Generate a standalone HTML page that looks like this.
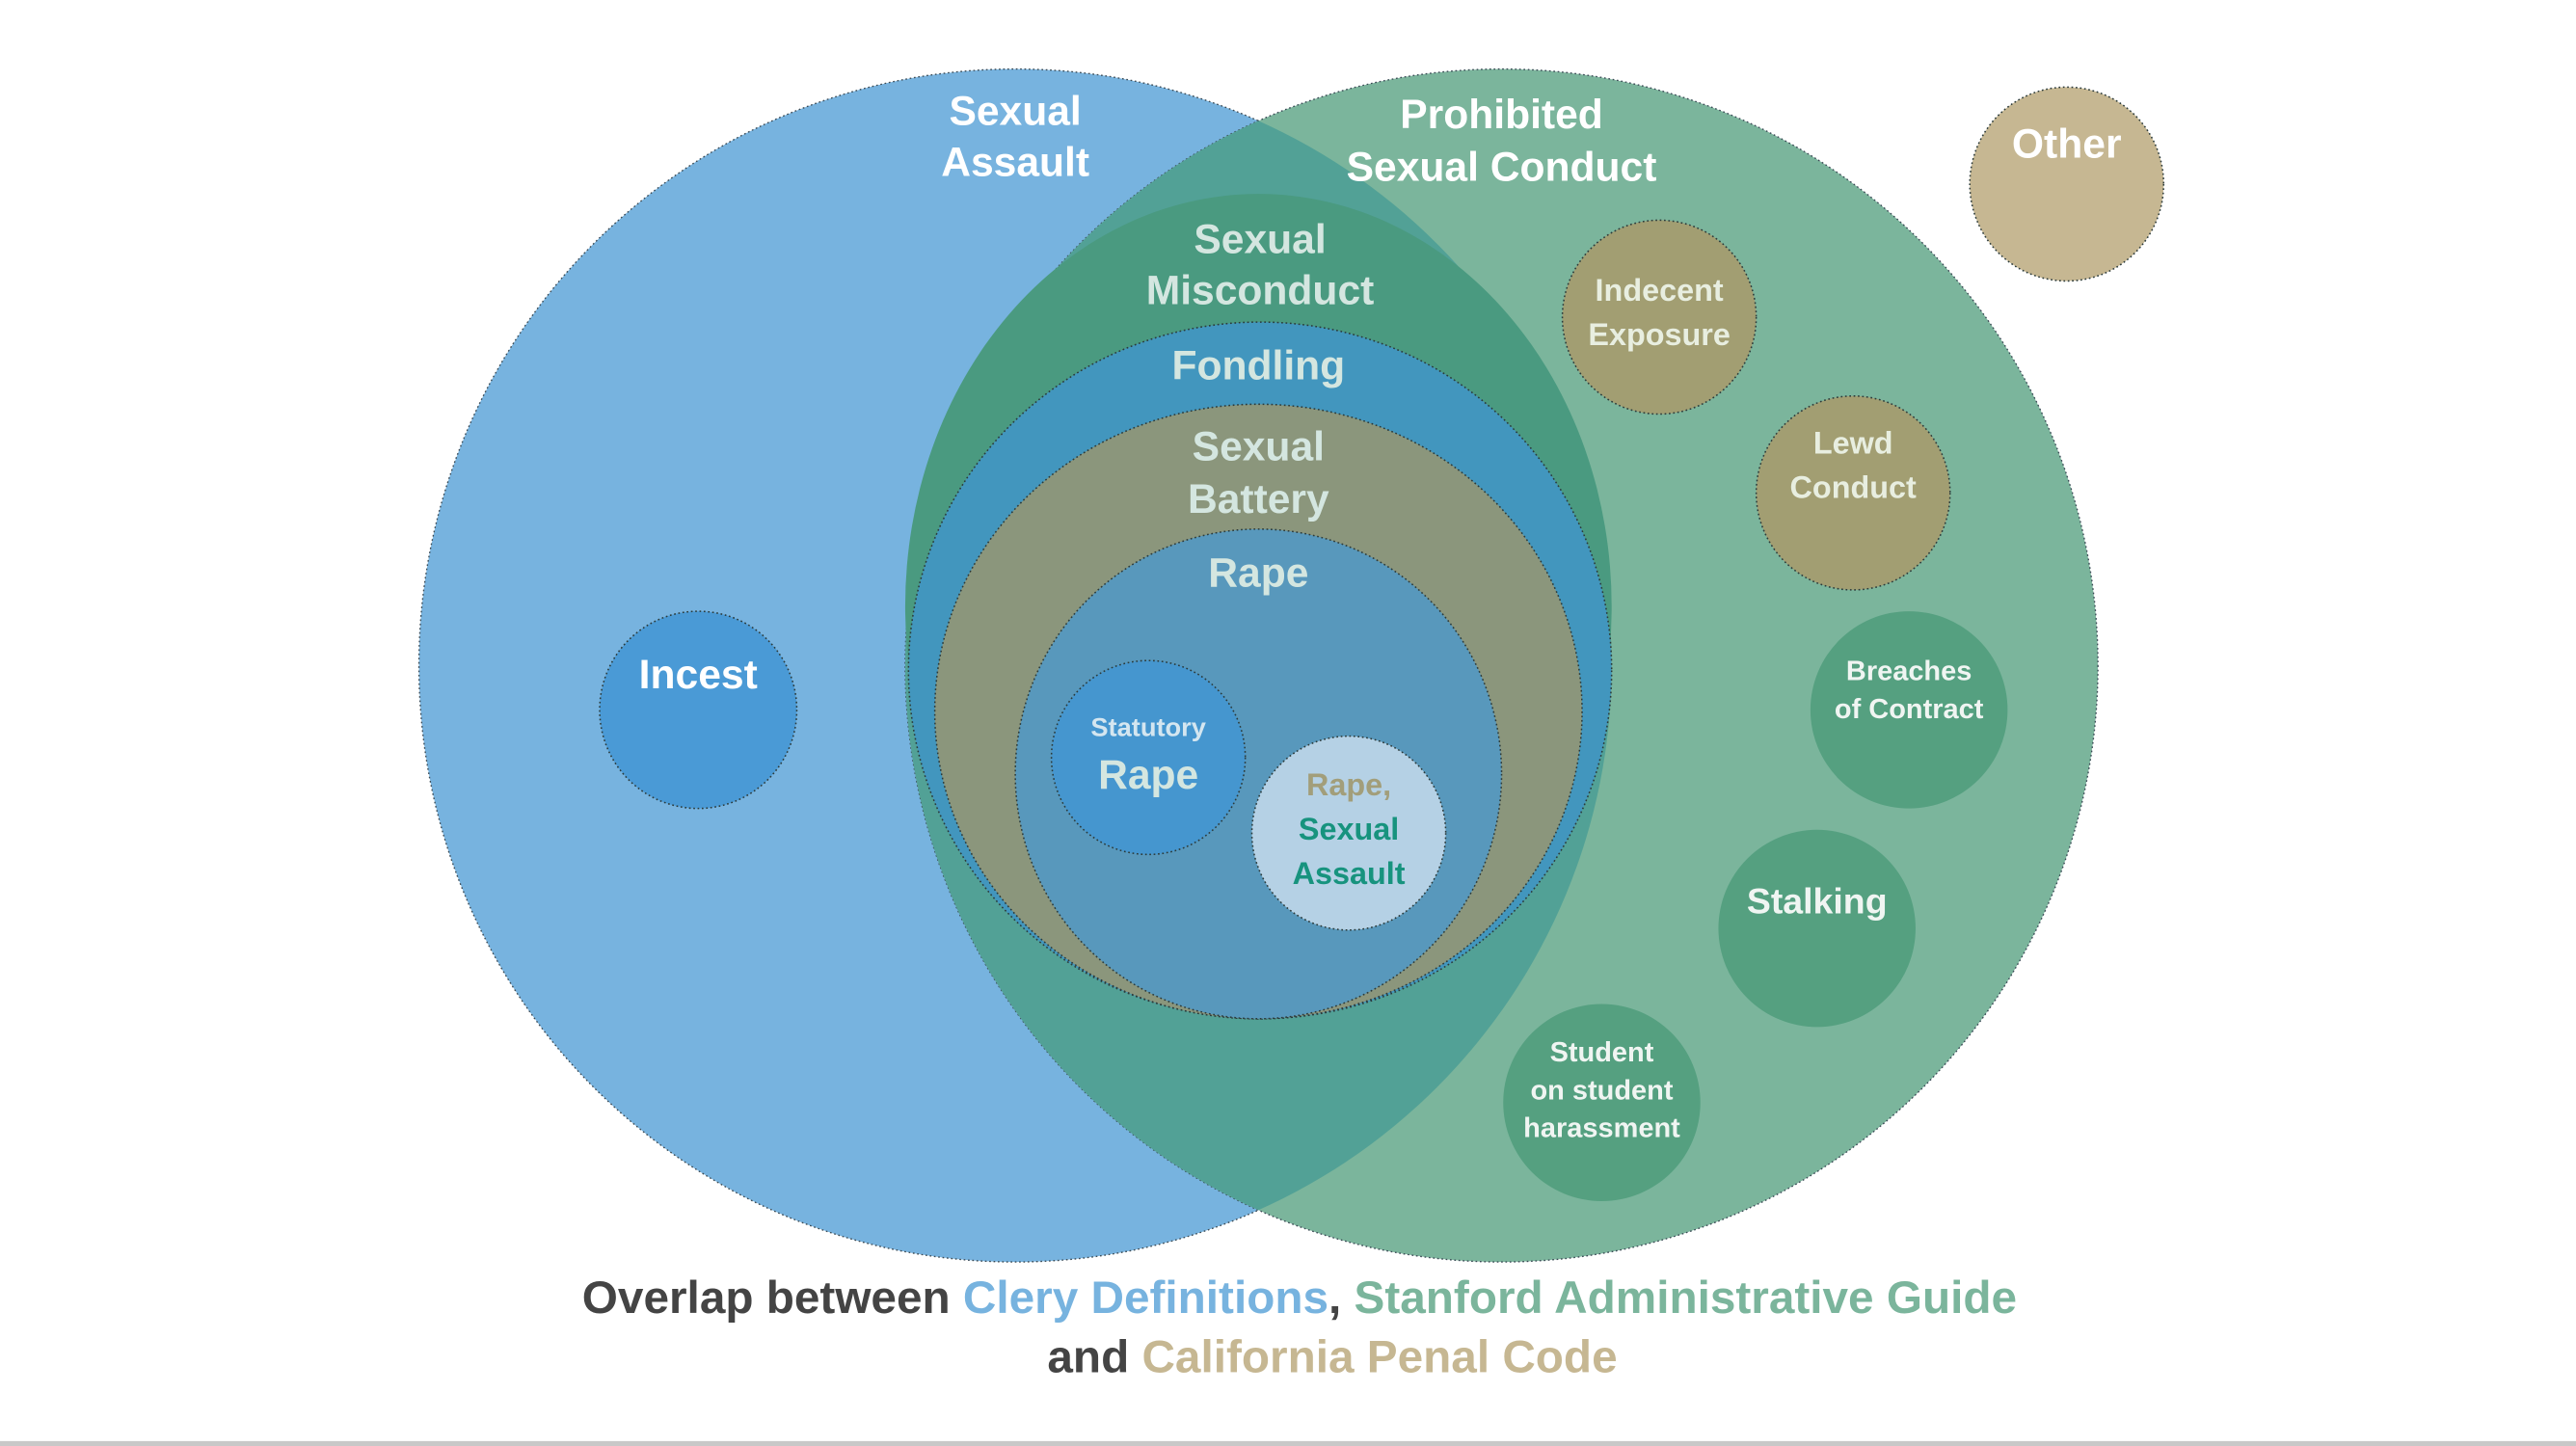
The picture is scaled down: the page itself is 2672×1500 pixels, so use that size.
<!DOCTYPE html>
<html><head><meta charset="utf-8"><style>
html,body{margin:0;padding:0;background:#fff;}
svg{display:block;}
text{font-family:"Liberation Sans",Arial,sans-serif;font-weight:bold;text-anchor:middle;}
</style></head><body>
<svg width="2672" height="1500" viewBox="0 0 1568 880" preserveAspectRatio="none" xmlns="http://www.w3.org/2000/svg">
<defs>
<clipPath id="blueClip"><circle cx="618" cy="405" r="363"/></clipPath>
</defs>
<rect width="1568" height="880" fill="#fff"/>
<g stroke="#3a4a55" stroke-width="0.8" stroke-dasharray="1,1.6">
<circle cx="618" cy="405" r="363" fill="#77b3df"/>
<circle cx="914" cy="405" r="363" fill="#7bb59c"/>
</g>
<circle cx="914" cy="405" r="363" fill="#52a196" clip-path="url(#blueClip)"/>
<g stroke="#2b3a3a" stroke-width="0.9" stroke-dasharray="1,1.6">
<ellipse cx="766" cy="369" rx="215" ry="251" fill="#4a9a80" stroke="none"/>
<ellipse cx="767" cy="408" rx="214" ry="212" fill="#4296be"/>
<ellipse cx="766" cy="433" rx="197" ry="187" fill="#8b967c"/>
<ellipse cx="766" cy="471" rx="148" ry="149" fill="#5898bc"/>
<circle cx="699" cy="461" r="59" fill="#4596cf"/>
<circle cx="821" cy="507" r="59" fill="#b5d1e5"/>
<circle cx="425" cy="432" r="60" fill="#4a9ad6"/>
<circle cx="1258" cy="112" r="59" fill="#c6b792"/>
<circle cx="1010" cy="193" r="59" fill="#a29e72"/>
<circle cx="1128" cy="300" r="59" fill="#a29e72"/>
</g>
<g fill="#55a080">
<circle cx="1162" cy="432" r="60"/>
<circle cx="1106" cy="565" r="60"/>
<circle cx="975" cy="671" r="60"/>
</g>
<g fill="#fff" font-size="25">
<text x="618" y="76">Sexual</text>
<text x="618" y="107">Assault</text>
<text x="914" y="78">Prohibited</text>
<text x="914" y="110">Sexual Conduct</text>
<text x="1258" y="96">Other</text>
<text x="425" y="419">Incest</text>
</g>
<g fill="#d4e6e0" font-size="25">
<text x="767" y="154">Sexual</text>
<text x="767" y="185">Misconduct</text>
<text x="766" y="231">Fondling</text>
<text x="766" y="280">Sexual</text>
<text x="766" y="312">Battery</text>
<text x="766" y="357">Rape</text>
<text x="699" y="480">Rape</text>
</g>
<text x="699" y="448" font-size="16" fill="#d4e6f0">Statutory</text>
<text x="821" y="484" font-size="19" fill="#a29e7a">Rape,</text>
<text x="821" y="511" font-size="19" fill="#17937e">Sexual</text>
<text x="821" y="538" font-size="19" fill="#17937e">Assault</text>
<g fill="#e8eee0" font-size="19">
<text x="1010" y="183">Indecent</text>
<text x="1010" y="210">Exposure</text>
<text x="1128" y="276">Lewd</text>
<text x="1128" y="303">Conduct</text>
</g>
<g fill="#f0f5f2" font-size="17">
<text x="1162" y="414">Breaches</text>
<text x="1162" y="437">of Contract</text>
<text x="975" y="646">Student</text>
<text x="975" y="669">on student</text>
<text x="975" y="692">harassment</text>
</g>
<text x="1106" y="556" font-size="22" fill="#f0f5f2">Stalking</text>
<text x="791" y="799" font-size="28"><tspan fill="#444">Overlap between </tspan><tspan fill="#77b3df">Clery Definitions</tspan><tspan fill="#444">, </tspan><tspan fill="#7bb59c">Stanford Administrative Guide</tspan></text>
<text x="811" y="835" font-size="28"><tspan fill="#444">and </tspan><tspan fill="#c6b792">California Penal Code</tspan></text>
<rect x="0" y="877" width="1568" height="3" fill="#c8c8c8"/>
</svg>
</body></html>
